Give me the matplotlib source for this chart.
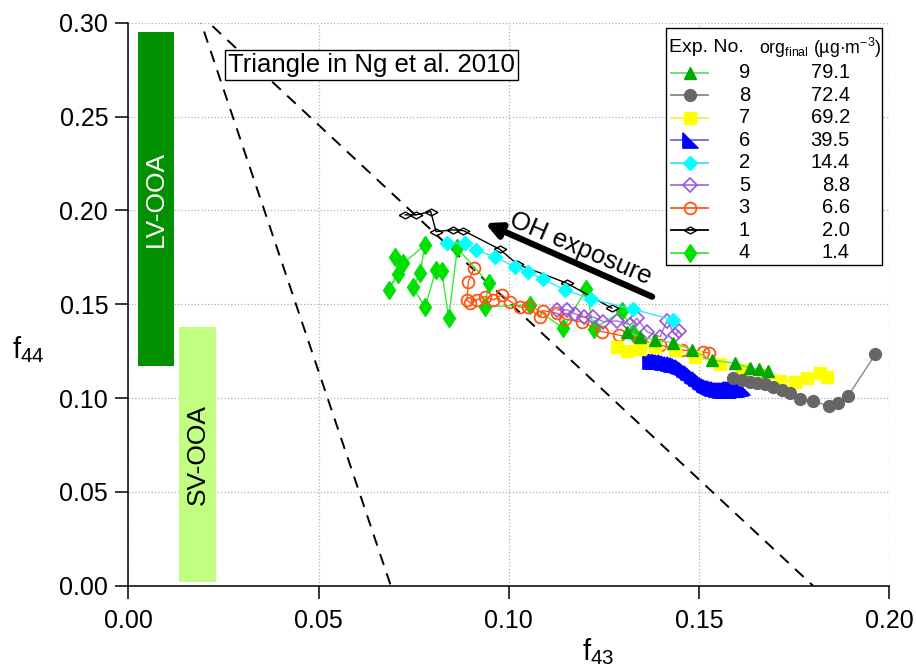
import matplotlib
matplotlib.use('Agg')
import matplotlib.pyplot as plt
from matplotlib.path import Path
from matplotlib.patches import Rectangle

plt.rcParams['font.family'] = ['Liberation Sans', 'DejaVu Sans']
plt.rcParams['mathtext.fontset'] = 'custom'
plt.rcParams['mathtext.rm'] = 'Liberation Sans'
plt.rcParams['mathtext.it'] = 'Liberation Sans'
plt.rcParams['mathtext.default'] = 'regular'

# ---------------- data ----------------
exp_no = ['9', '8', '7', '6', '2', '5', '3', '1', '4']
org_final = [79.1, 72.4, 69.2, 39.5, 14.4, 8.8, 6.6, 2.0, 1.4]

f43_exp9 = [0.1310, 0.1345, 0.1385, 0.1433, 0.1482, 0.1534, 0.1596, 0.1635, 0.1657, 0.1683]
f44_exp9 = [0.1354, 0.1327, 0.1310, 0.1295, 0.1256, 0.1203, 0.1185, 0.1159, 0.1154, 0.1146]

f43_exp8 = [0.1591, 0.1613, 0.1635, 0.1653, 0.1675, 0.1696, 0.1719, 0.1740, 0.1767, 0.1800,
            0.1841, 0.1867, 0.1892, 0.1964]
f44_exp8 = [0.1106, 0.1096, 0.1087, 0.1082, 0.1075, 0.1058, 0.1043, 0.1029, 0.0995, 0.0985,
            0.0958, 0.0972, 0.1011, 0.1233]

f43_exp7 = [0.1285, 0.1312, 0.1344, 0.1385, 0.1438, 0.1491, 0.1556, 0.1613, 0.1670, 0.1714,
            0.1754, 0.1784, 0.1819, 0.1837]
f44_exp7 = [0.1271, 0.1253, 0.1260, 0.1271, 0.1256, 0.1221, 0.1183, 0.1150, 0.1123, 0.1093,
            0.1087, 0.1106, 0.1135, 0.1114]

f43_exp6 = [0.1372, 0.1380, 0.1388, 0.1396, 0.1404, 0.1412, 0.1420, 0.1428, 0.1435, 0.1442,
            0.1448, 0.1455, 0.1462, 0.1467, 0.1472, 0.1478, 0.1483, 0.1488, 0.1493, 0.1499,
            0.1504, 0.1509, 0.1514, 0.1520, 0.1525, 0.1530, 0.1535, 0.1541, 0.1546, 0.1551,
            0.1556, 0.1562, 0.1567, 0.1572, 0.1577, 0.1583, 0.1588, 0.1593, 0.1598, 0.1604,
            0.1609, 0.1614]
f44_exp6 = [0.1198, 0.1198, 0.1198, 0.1195, 0.1192, 0.1190, 0.1187, 0.1184, 0.1181, 0.1176,
            0.1171, 0.1163, 0.1155, 0.1147, 0.1139, 0.1131, 0.1123, 0.1115, 0.1107, 0.1099,
            0.1091, 0.1083, 0.1075, 0.1070, 0.1065, 0.1060, 0.1054, 0.1052, 0.1049, 0.1046,
            0.1043, 0.1043, 0.1043, 0.1043, 0.1043, 0.1046, 0.1049, 0.1049, 0.1049, 0.1052,
            0.1054, 0.1060]

f43_exp2 = [0.0837, 0.0886, 0.0915, 0.0965, 0.1017, 0.1052, 0.1090, 0.1149, 0.1217, 0.1327, 0.1433]
f44_exp2 = [0.1828, 0.1825, 0.1789, 0.1751, 0.1699, 0.1672, 0.1632, 0.1576, 0.1528, 0.1473, 0.1416]

f43_exp5 = [0.1127, 0.1153, 0.1175, 0.1199, 0.1221, 0.1249, 0.1285, 0.1320, 0.1337, 0.1363,
            0.1398, 0.1416, 0.1438, 0.1447]
f44_exp5 = [0.1470, 0.1470, 0.1448, 0.1432, 0.1432, 0.1407, 0.1411, 0.1390, 0.1425, 0.1354,
            0.1327, 0.1411, 0.1336, 0.1358]

f43_exp3 = [0.1526, 0.1512, 0.1456, 0.1398, 0.1346, 0.1289, 0.1245, 0.1193, 0.1149, 0.1127,
            0.1090, 0.1081, 0.1052, 0.1030, 0.1004, 0.0982, 0.0960, 0.0938, 0.0916, 0.0899,
            0.0890, 0.0894, 0.0909]
f44_exp3 = [0.1239, 0.1246, 0.1256, 0.1283, 0.1310, 0.1336, 0.1354, 0.1406, 0.1420, 0.1452,
            0.1466, 0.1431, 0.1484, 0.1484, 0.1514, 0.1550, 0.1523, 0.1541, 0.1523, 0.1505,
            0.1523, 0.1620, 0.1692]

f43_exp1 = [0.0728, 0.0756, 0.0795, 0.0809, 0.0853, 0.0881, 0.0976, 0.1023, 0.1153, 0.1271]
f44_exp1 = [0.1976, 0.1976, 0.1994, 0.1887, 0.1896, 0.1892, 0.1793, 0.1713, 0.1612, 0.1479]

f43_exp4 = [0.0702, 0.0710, 0.0684, 0.0723, 0.0780, 0.0767, 0.0748, 0.0780, 0.0809, 0.0824,
            0.0842, 0.0865, 0.0947, 0.0938, 0.1057, 0.1144, 0.1204, 0.1223, 0.1298, 0.1328]
f44_exp4 = [0.1754, 0.1662, 0.1577, 0.1719, 0.1815, 0.1665, 0.1591, 0.1484, 0.1683, 0.1679,
            0.1425, 0.1798, 0.1612, 0.1487, 0.1496, 0.1372, 0.1582, 0.1368, 0.1464, 0.1345]

# Ng et al. 2010 triangle (apex and two base ends)
tri_apex = (0.0182, 0.3056)
tri_left_base = 0.0690
tri_right_base = 0.1800

# factor bars: (x0, x1, y0, y1)
lvooa_box = (0.0025, 0.0119, 0.117, 0.295)
svooa_box = (0.0132, 0.0231, 0.002, 0.138)

# ---------------- styles ----------------
lower_left_tri = Path([(-1, 1), (-1, -1), (1, -1), (-1, 1)])
flat_diamond = Path([(-1, 0), (0, 0.55), (1, 0), (0, -0.55), (-1, 0)])

styles = {
    '9': dict(marker='^', ms=9, mfc='#00a800', mec='#00a800', color='#66dd66'),
    '8': dict(marker='o', ms=8.5, mfc='#666666', mec='#666666', color='#888888'),
    '7': dict(marker='s', ms=9, mfc='#ffff00', mec='#ffff00', color='#f0f040'),
    '6': dict(marker=lower_left_tri, ms=11, mfc='#0000ff', mec='#0000ff', color='#6666ff'),
    '2': dict(marker='D', ms=7.5, mfc='#00ffff', mec='#00ffff', color='#33e8f0'),
    '5': dict(marker='D', ms=7.5, mfc='none', mec='#9955dd', mew=1.2, color='#a070e0'),
    '3': dict(marker='o', ms=8.5, mfc='none', mec='#ff5511', mew=1.3, color='#ff5511'),
    '1': dict(marker=flat_diamond, ms=9, mfc='none', mec='black', mew=1.0, color='black'),
    '4': dict(marker='d', ms=9.5, mfc='#00e000', mec='#00e000', color='#33ee33'),
}
series = {
    '9': (f43_exp9, f44_exp9), '8': (f43_exp8, f44_exp8), '7': (f43_exp7, f44_exp7),
    '6': (f43_exp6, f44_exp6), '2': (f43_exp2, f44_exp2), '5': (f43_exp5, f44_exp5),
    '3': (f43_exp3, f44_exp3), '1': (f43_exp1, f44_exp1), '4': (f43_exp4, f44_exp4),
}

fig = plt.figure(figsize=(9.16, 6.70), dpi=100)
ax = fig.add_axes([0.1401, 0.1258, 0.8305, 0.8403])

# factor bars
for (x0, x1, y0, y1), col in [(lvooa_box, '#009000'), (svooa_box, '#c0ff80')]:
    ax.add_patch(Rectangle((x0, y0), x1 - x0, y1 - y0, facecolor=col, edgecolor='none', zorder=1))
ax.text((lvooa_box[0] + lvooa_box[1]) / 2, (lvooa_box[2] + lvooa_box[3]) / 2, 'LV-OOA',
        rotation=90, ha='center', va='center', color='white', fontsize=19, zorder=2)
ax.text((svooa_box[0] + svooa_box[1]) / 2, (svooa_box[2] + svooa_box[3]) / 2, 'SV-OOA',
        rotation=90, ha='center', va='center', color='black', fontsize=19, zorder=2)

# triangle
ax.plot([tri_apex[0], tri_left_base], [tri_apex[1], 0], ls=(0, (6, 4.5)), color='black', lw=1.4, zorder=2)
ax.plot([tri_apex[0], tri_right_base], [tri_apex[1], 0], ls=(0, (6, 4.5)), color='black', lw=1.4, zorder=2)
ax.text(0.0262, 0.2776, 'Triangle in Ng et al. 2010', fontsize=18.5, va='center', ha='left',
        bbox=dict(boxstyle='square,pad=0.12', facecolor='white', edgecolor='black', lw=1.0), zorder=3)

# series, drawn from last legend entry to first
for key in reversed(exp_no):
    xs, ys = series[key]
    st = dict(styles[key])
    ax.plot(xs, ys, lw=1.0, zorder=4, **st)

# OH exposure arrow
ax.annotate('', xy=(0.0938, 0.1932), xytext=(0.1377, 0.1540),
            arrowprops=dict(arrowstyle='-|>,head_length=0.9,head_width=0.45', lw=4.5,
                            color='black', shrinkA=0, shrinkB=0), zorder=5)
ax.text(0.1190, 0.1795, 'OH exposure', rotation=-23, ha='center', va='center',
        fontsize=18.5, rotation_mode='anchor', zorder=5)

# axes
ax.set_xlim(0, 0.20)
ax.set_ylim(0, 0.30)
ax.set_xticks([0, 0.05, 0.10, 0.15, 0.20])
ax.set_yticks([0, 0.05, 0.10, 0.15, 0.20, 0.25, 0.30])
ax.xaxis.set_major_formatter(plt.FormatStrFormatter('%.2f'))
ax.yaxis.set_major_formatter(plt.FormatStrFormatter('%.2f'))
ax.tick_params(direction='out', length=9.5, width=1.1, labelsize=18, pad=5)
ax.tick_params(axis='x', pad=7)
for s in ['top', 'right']:
    ax.spines[s].set_visible(False)
for s in ['left', 'bottom']:
    ax.spines[s].set_linewidth(1.1)
ax.grid(True, ls=':', color='#b0b0b0', lw=0.9, zorder=0)
ax.set_axisbelow(True)

fig.text(28 / 916, 1 - 350 / 670, r'f$_{44}$', fontsize=21, ha='center', va='center')
fig.text(598 / 916, 1 - 652 / 670, r'f$_{43}$', fontsize=21, ha='center', va='center')

# hand-built legend (axes fraction coordinates)
leg_x0, leg_x1, leg_y0, leg_y1 = 0.7069, 0.9908, 0.5696, 0.9906
ax.add_patch(Rectangle((leg_x0, leg_y0), leg_x1 - leg_x0, leg_y1 - leg_y0, transform=ax.transAxes,
                       facecolor='white', edgecolor='black', lw=1.0, zorder=6, clip_on=False))
head_y = 0.9551
ax.text(0.7109, head_y, 'Exp. No.', transform=ax.transAxes, fontsize=14, va='center', zorder=7)
ax.text(0.8290, head_y, r'org$_{final}$ (µg·m$^{-3}$)', transform=ax.transAxes, fontsize=12.8,
        va='center', zorder=7)
row_step = 0.0399
for i, key in enumerate(exp_no):
    yy = 0.9107 - i * row_step
    st = dict(styles[key])
    lc = st.pop('color')
    ax.plot([0.7133, 0.7619], [yy, yy], color=lc, lw=1.3, transform=ax.transAxes, zorder=7, clip_on=False)
    ax.plot([0.7377], [yy], ls='none', transform=ax.transAxes, zorder=8, clip_on=False, **st)
    ax.text(0.8171, yy, key, transform=ax.transAxes, fontsize=14.5, ha='right', va='center', zorder=8)
    ax.text(0.9485, yy, '%.1f' % org_final[i], transform=ax.transAxes, fontsize=14.5, ha='right',
            va='center', zorder=8)

fig.savefig('out.png', dpi=100)
